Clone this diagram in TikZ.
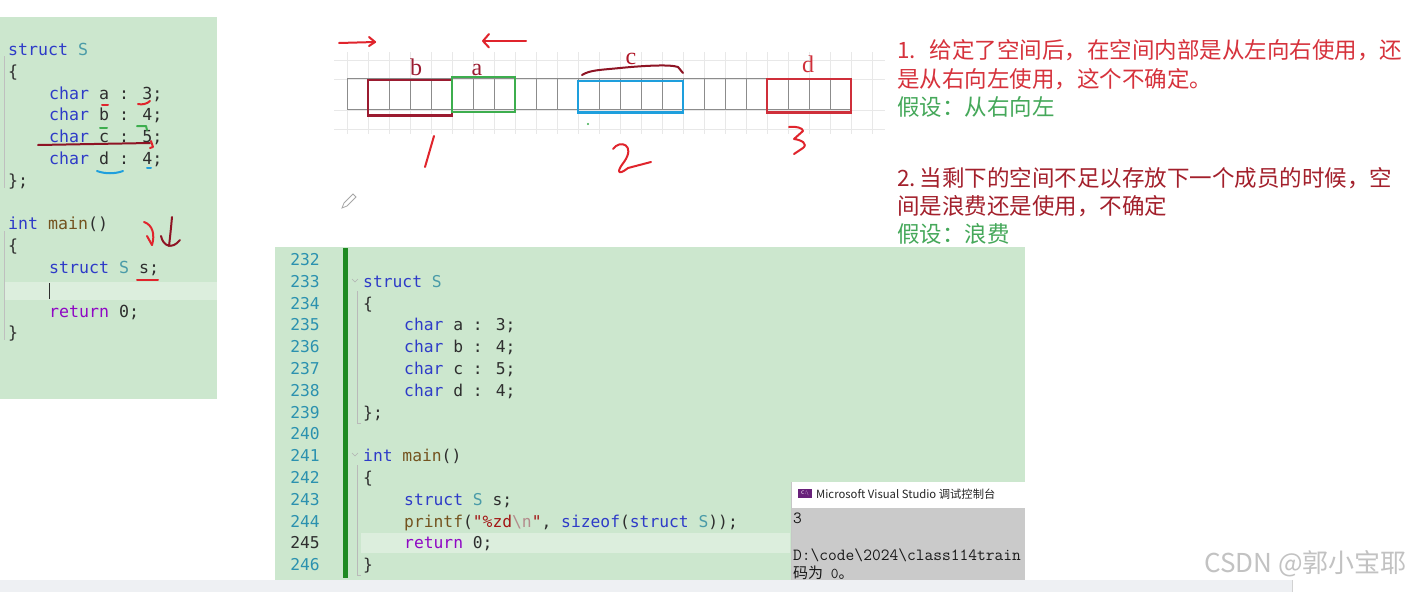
\documentclass[tikz,border=0pt]{standalone}
\usepackage{fontspec}
\newfontfamily\codefont{DejaVu Sans Mono}
\newfontfamily\cjk{Noto Sans CJK SC}
\newfontfamily\lblfont{Liberation Serif}
\usetikzlibrary{arrows.meta}
\definecolor{panel}{HTML}{CCE7CE}
\definecolor{hlband}{HTML}{DCEEDD}
\definecolor{kw}{HTML}{2E3BC8}
\definecolor{typ}{HTML}{4A9BA8}
\definecolor{ident}{HTML}{2E2E2E}
\definecolor{fn}{HTML}{74531F}
\definecolor{ret}{HTML}{8F08C4}
\definecolor{str}{HTML}{A31515}
\definecolor{esc}{HTML}{B38C8C}
\definecolor{lnumc}{HTML}{2B91AF}
\definecolor{gbar}{HTML}{1E8A22}
\definecolor{strip}{HTML}{EEF0F3}
\definecolor{gridc}{HTML}{E8E8E8}
\definecolor{cellc}{HTML}{8C8C8C}
\definecolor{bred}{HTML}{9B1B30}
\definecolor{agreen}{HTML}{3DAE4E}
\definecolor{cblue}{HTML}{1E9FDD}
\definecolor{dred}{HTML}{CF2F3A}
\definecolor{ink}{HTML}{E0242C}
\definecolor{darkink}{HTML}{8E1424}
\definecolor{txtred}{HTML}{D6323C}
\definecolor{txtdred}{HTML}{A3202C}
\definecolor{txtgreen}{HTML}{45A85A}
\definecolor{consolegray}{HTML}{CACACA}
\definecolor{wmc}{HTML}{C2C2C2}
\definecolor{vsicon}{HTML}{68217A}
\newcommand\ckw[1]{\textcolor{kw}{#1}}
\newcommand\ctyp[1]{\textcolor{typ}{#1}}
\newcommand\cfn[1]{\textcolor{fn}{#1}}
\newcommand\cret[1]{\textcolor{ret}{#1}}
\newcommand\cstr[1]{\textcolor{str}{#1}}
\newcommand\cesc[1]{\textcolor{esc}{#1}}
\tikzset{
  lcode/.style={anchor=base west, inner sep=0pt, text=ident, font=\codefont\fontsize{16.6}{20}\selectfont},
  bcode/.style={anchor=base west, inner sep=0pt, text=ident, font=\codefont\fontsize{16.3}{20}\selectfont},
  linenum/.style={anchor=base east, inner sep=0pt, font=\codefont\fontsize{16.3}{20}\selectfont},
  note/.style={anchor=base west, inner sep=0pt, font=\cjk\fontsize{22.5}{28}\selectfont},
  lbl/.style={inner sep=0pt, font=\lblfont\fontsize{24}{26}\selectfont},
  con/.style={anchor=base west, inner sep=0pt, text=black!90, font=\ttfamily\fontsize{17}{18}\selectfont},
  pen/.style={line width=2pt, line cap=round, line join=round},
  cell/.style={draw=cellc, line width=1pt},
  mbox/.style={line width=2.2pt},
}
\begin{document}
\begin{tikzpicture}[x=1pt,y=-1pt]
\useasboundingbox (0,0) rectangle (1418,592);
\fill[white] (0,0) rectangle (1418,592);
% bottom strip
\fill[strip] (0,580) rectangle (1292,592);
\draw[gray!35] (1292,580) -- (1292,592);

% ---------------- left code panel
\fill[panel] (0,17) rectangle (217,399);
\fill[hlband] (5,282) rectangle (217,300);
\draw[gray!50, line width=0.5pt] (4,56) -- (4,188);
\draw[gray!50, line width=0.5pt] (4,231) -- (4,340);
\node[lcode] (l0) at (8,55.5) {\ckw{struct} \ctyp{S}};
\node[lcode] (l1) at (8,77.3) {\{};
\node[lcode] (l2) at (49,99.1) {\ckw{char} a : 3;};
\node[lcode] (l3) at (49,120.9) {\ckw{char} b : 4;};
\node[lcode] (l4) at (49,142.7) {\ckw{char} c : 5;};
\node[lcode] (l5) at (49,164.5) {\ckw{char} d : 4;};
\node[lcode] (l6) at (8,186.3) {\};};
\node[lcode] (l8) at (8,229.9) {\ckw{int} \cfn{main}()};
\node[lcode] (l9) at (8,251.7) {\{};
\node[lcode] (l10) at (49,273.5) {\ckw{struct} \ctyp{S} s;};
\draw[ident, line width=1pt] (49,283) -- (49,299);
\node[lcode] (l12) at (49,317.1) {\cret{return} 0;};
\node[lcode] (l13) at (8,338.9) {\}};
% hand marks on left panel
\draw[pen, ink] (102,105) -- (108,105);
\draw[pen, ink] (138,104) .. controls (142,105) and (147,104) .. (150,101);
\draw[pen, agreen] (100,128) -- (107,128);
\draw[pen, agreen] (137,126) -- (146,126) -- (147,130);
\draw[pen, darkink] (38,145) -- (150,143);
\draw[pen, ink] (151,141) -- (153,147) -- (150,148);
\draw[pen, cblue] (97,171) .. controls (105,174) and (115,174) .. (123,171);
\draw[pen, cblue] (147,168) -- (151,168);
\draw[pen, ink] (144,222) .. controls (153,225) and (155,235) .. (152,245);
\draw[pen, ink] (147,236) -- (152,245);
\draw[pen, darkink] (172,217) .. controls (171,228) and (170,238) .. (169,246);
\draw[pen, darkink] (161,236) .. controls (163,246) and (172,250) .. (180,240);
\draw[pen, ink] (137,280) -- (158,280);

% ---------------- memory diagram
\foreach \i in {0,...,25} \draw[gridc, line width=0.8pt] ({347+21*\i},52) -- ({347+21*\i},134);
\foreach \yy in {60,79,110,129} \draw[gridc, line width=0.8pt] (334,\yy) -- (885,\yy);
\foreach \i in {0,...,23} \draw[cell] ({347+21*\i},78.6) rectangle ++(21,31);
\draw[mbox, bred] (368,79.6) rectangle (452,115.4);
\draw[mbox, agreen] (452,77) rectangle (515,112);
\draw[mbox, cblue] (578,81) rectangle (683,112.5);
\draw[mbox, dred] (767,79) rectangle (851,112.5);
\node[lbl, text=bred] (lb) at (416,67) {b};
\node[lbl, text=bred] (la) at (477,70) {a};
\node[lbl, text=bred!80!red] (lc) at (631,59) {c};
\node[lbl, text=dred] (ld) at (808,64) {d};
\draw[pen, darkink] (582,75) .. controls (590,70) and (600,70) .. (620,68) .. controls (640,66) and (670,64) .. (678,67) -- (683,73);
\fill[agreen] (588,124) circle (1.2);
% arrows
\draw[pen, ink] (339,43) -- (375,42);
\draw[pen, ink] (369,37) -- (375,42) -- (369,46);
\draw[pen, ink] (483,41) -- (526,41);
\draw[pen, ink] (489,34) -- (483,41) -- (489,47.5);
% handwritten numbers
\draw[pen, ink] (434,136) -- (425,167);
\draw[pen, ink] (613,149) .. controls (620,139) and (636,145) .. (624,162) .. controls (616,172) and (618,176) .. (628,168) -- (651,162);
\draw[pen, ink] (789,127) .. controls (796,126) and (803,128) .. (803,131) -- (794,139) .. controls (802,140) and (808,144) .. (803,148) -- (794,154);
% pencil icon
\draw[gray!70, line width=0.8pt] (342,208) -- (344,203) -- (353,194) -- (356,197) -- (347,206) -- cycle;

% ---------------- notes
\node[note, text=txtred] (t1) at (897,58.5) {1.\hspace{14pt}给定了空间后，在空间内部是从左向右使用，还};
\node[note, text=txtred] (t2) at (897,87.1) {是从右向左使用，这个不确定。};
\node[note, text=txtgreen] (t3) at (897,115.6) {假设：从右向左};
\node[note, text=txtdred] (t4) at (897,186.6) {2.\hspace{4pt}当剩下的空间不足以存放下一个成员的时候，空};
\node[note, text=txtdred] (t5) at (897,214.6) {间是浪费还是使用，不确定};
\node[note, text=txtgreen] (t6) at (897,242.6) {假设：浪费};

% ---------------- bottom code panel
\fill[panel] (275,247) rectangle (1025,580);
\fill[hlband] (361,533) rectangle (790,553);
\fill[gbar] (343,248) rectangle (347.5,578);
\foreach \n in {232,...,246}{
  \pgfmathsetmacro\yy{265.5+21.8*(\n-232)}
  \ifnum\n=245 \def\cc{ident}\else\def\cc{lnumc}\fi
  \node[linenum, text=\cc] (n\n) at (320,\yy) {\n};
}
\draw[gray!60, line width=0.6pt] (352,279) -- (355,282) -- (358,279);
\draw[gray!60, line width=0.6pt] (352,453) -- (355,456) -- (358,453);
\draw[gray!55, line width=0.6pt] (357,291) -- (357,423) -- (361,423);
\draw[gray!55, line width=0.6pt] (357,465) -- (357,575) -- (361,575);
\node[bcode] (b233) at (363,287.3) {\ckw{struct} \ctyp{S}};
\node[bcode] (b234) at (363,309.1) {\{};
\node[bcode] (b235) at (404,330.9) {\ckw{char} a : 3;};
\node[bcode] (b236) at (404,352.7) {\ckw{char} b : 4;};
\node[bcode] (b237) at (404,374.5) {\ckw{char} c : 5;};
\node[bcode] (b238) at (404,396.3) {\ckw{char} d : 4;};
\node[bcode] (b239) at (363,418.1) {\};};
\node[bcode] (b241) at (363,461.7) {\ckw{int} \cfn{main}()};
\node[bcode] (b242) at (363,483.5) {\{};
\node[bcode] (b243) at (404,505.3) {\ckw{struct} \ctyp{S} s;};
\node[bcode] (b244) at (404,527.1) {\cfn{printf}(\cstr{"\%zd}\cesc{\textbackslash n}\cstr{"}, \ckw{sizeof}(\ckw{struct} \ctyp{S}));};
\node[bcode] (b245) at (404,548.9) {\cret{return} 0;};
\node[bcode] (b246) at (363,570.7) {\}};

% ---------------- console window
\fill[white] (791,482) rectangle (1025,508);
\fill[consolegray] (791,508) rectangle (1025,580);
\draw[gray!45, line width=0.6pt] (791,482) -- (791,580);
\fill[vsicon] (798,489) rectangle (812,498);
\node[inner sep=0pt, text=white, font=\sffamily\fontsize{5}{5}\selectfont] (icon) at (805,493.5) {C:\textbackslash};
\node[anchor=west, inner sep=0pt, text=black!85, font=\cjk\fontsize{11.3}{12}\selectfont] (ttl) at (816,494) {Microsoft Visual Studio 调试控制台};
\begin{scope}
\clip (791,508) rectangle (1025,580);
\node[con] (o1) at (793,523) {3};
\node[con] (o2) at (793,560) {D:\textbackslash code\textbackslash 2024\textbackslash class114train};
\node[con, font=\ttfamily\fontsize{15}{16}\selectfont] (o3) at (793,578) {{\cjk 码为} 0{\cjk 。}};
\end{scope}

% ---------------- watermark
\node[anchor=west, inner sep=0pt, text=wmc, font=\cjk\fontsize{26}{30}\selectfont] (wm) at (1204,564) {CSDN @郭小宝耶};
\end{tikzpicture}
\end{document}
